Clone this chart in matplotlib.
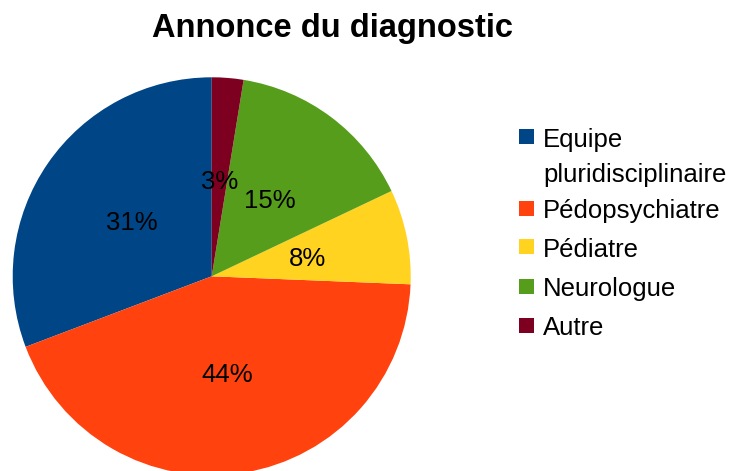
import matplotlib
matplotlib.use("Agg")
import matplotlib.pyplot as plt
from matplotlib.patches import Rectangle

plt.rcParams['font.family'] = ['Liberation Sans', 'DejaVu Sans']

# data (counts)
categories = ["Equipe\npluridisciplinaire", "Pédopsychiatre", "Pédiatre", "Neurologue", "Autre"]
counts = [12, 17, 3, 6, 1]
colors = ["#004586", "#ff420e", "#ffd320", "#579d1c", "#7e0021"]
title = "Annonce du diagnostic"

W, H = 738, 471
fig = plt.figure(figsize=(W / 100, H / 100), dpi=100)

# pie axes placed so the disc sits where it is in the reference
ax = fig.add_axes([12.7 / W, (H - 475.3) / H, 398 / W, 398 / H])
wedges, texts, autotexts = ax.pie(
    counts, colors=colors, startangle=90, counterclock=True,
    autopct='%1.0f%%', pctdistance=0.49, radius=1.0,
    wedgeprops=dict(linewidth=0), textprops=dict(fontsize=18.5, color='black'))
for t in autotexts:
    t.set_verticalalignment('center_baseline')
ax.set_xlim(-1, 1)
ax.set_ylim(-1, 1)
ax.set_aspect('equal')

fig.text(332.5 / W, 1 - 28 / H, title, ha='center', va='center',
         fontsize=23.5, fontweight='bold')

# legend drawn by hand: square aligned with the first line of each label
baselines = [146.7, 218.3, 256.7, 296, 335]   # pixel rows, from top
line_gap = 35
for label, col, yb in zip(categories, colors, baselines):
    sq = Rectangle((519 / W, 1 - (yb - 2.5) / H), 15 / W, 15 / H,
                   transform=fig.transFigure, facecolor=col, edgecolor='none')
    fig.patches.append(sq)
    for k, line in enumerate(label.split("\n")):
        fig.text(543 / W, 1 - (yb + k * line_gap) / H, line, ha='left', va='baseline',
                 fontsize=18.5)

fig.savefig("out.png", dpi=100)
